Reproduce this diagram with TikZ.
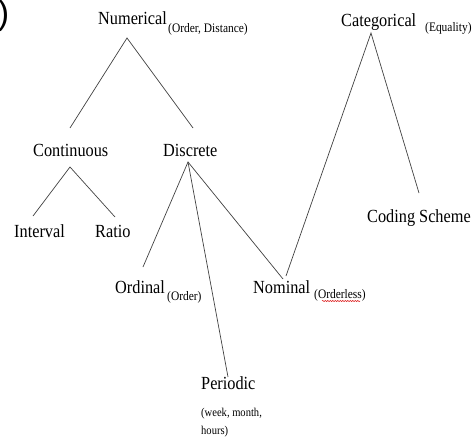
\documentclass[tikz,border=0pt]{standalone}
\usepackage{fontspec}
\setmainfont{Liberation Serif}[FakeStretch=0.88]
\newfontfamily\parf{Liberation Sans}
\usetikzlibrary{decorations.pathmorphing}
\begin{document}
\begin{tikzpicture}[x=1pt,y=-1pt,
  lbl/.style={anchor=base west,inner sep=0pt,font=\fontsize{18.5}{20}\selectfont},
  sub/.style={anchor=base west,inner sep=0pt,font=\fontsize{13}{15}\selectfont},
  subs/.style={anchor=base west,inner sep=0pt,font=\fontsize{12}{14}\selectfont},
  edge/.style={draw=black!75,line width=0.7pt}]
\useasboundingbox (0,0) rectangle (473,441);
% partial glyph at the top left
\node[anchor=east,inner sep=0pt,font=\parf\fontsize{34}{36}\selectfont] (paren) at (9.5,16) {)};
% labels
\node[lbl] (num) at (98,25) {Numerical};
\node[sub] (numS) at (168,33) {(Order, Distance)};
\node[lbl] (cat) at (341,27) {Categorical};
\node[sub] (catS) at (425,32) {(Equality)};
\node[lbl] (cont) at (33,156) {Continuous};
\node[lbl] (disc) at (163,156) {Discrete};
\node[lbl] (int) at (14,237) {Interval};
\node[lbl] (rat) at (95,237) {Ratio};
\node[lbl] (ord) at (115,293) {Ordinal};
\node[sub] (ordS) at (167,300) {(Order)};
\node[lbl] (nom) at (253,293) {Nominal};
\node[sub] (nomS) at (314,298) {(Orderless)};
\node[lbl] (code) at (367,222) {Coding Scheme};
\node[lbl] (per) at (201,389) {Periodic};
\node[subs] (perS1) at (201,416) {(week, month,};
\node[subs] (perS2) at (201,434) {hours)};
% connector end points
\coordinate (numB) at (127,38);
\coordinate (contT) at (70,128);
\coordinate (discT) at (193,128);
\coordinate (contB) at (70,167);
\coordinate (intT) at (33,216);
\coordinate (ratT) at (115,217);
\coordinate (discB) at (188,162);
\coordinate (ordT) at (143,267);
\coordinate (perT) at (228,377);
\coordinate (nomT) at (283,279);
\coordinate (nomT2) at (286,276);
\coordinate (catB) at (371,33);
\coordinate (codeT) at (419,193);
% connectors
\draw[edge] (contT) -- (numB) -- (discT);
\draw[edge] (intT) -- (contB) -- (ratT);
\draw[edge] (ordT) -- (discB) -- (nomT);
\draw[edge] (discB) -- (perT);
\draw[edge] (nomT2) -- (catB) -- (codeT);
% spell-check squiggle
\draw[red!85!black,line width=0.5pt,decorate,decoration={snake,amplitude=0.6pt,segment length=2.5pt}] (322,301) -- (360,301);
\end{tikzpicture}
\end{document}
